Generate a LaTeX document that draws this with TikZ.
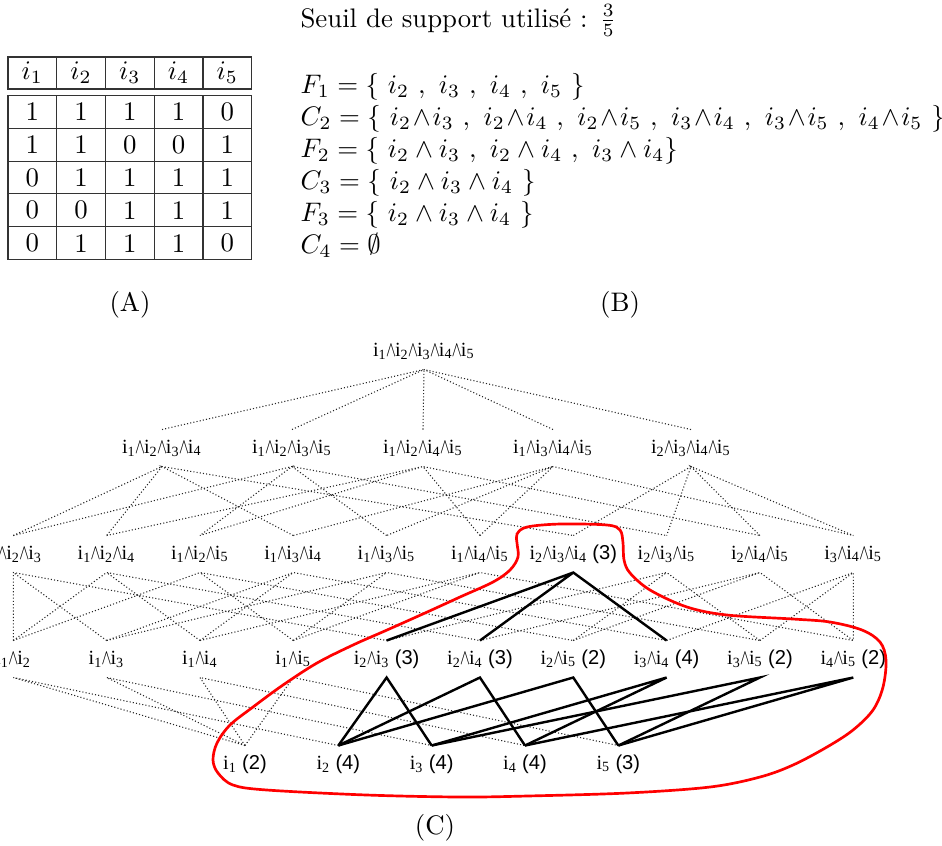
\documentclass[tikz,border=0pt]{standalone}
\usepackage{amsmath,amssymb}
\usepackage{fontspec}
\newfontfamily\timesf{Liberation Serif}
\newfontfamily\helvf{Liberation Sans}
\usetikzlibrary{positioning,calc}

\newcommand{\ai}[1]{i\textsubscript{#1}}
\newcommand{\wg}{\kern-0.45pt\scalebox{0.72}[1.15]{$\wedge$}\kern-0.45pt}
\newcommand{\cnt}[1]{\space{\helvf(#1)}}
\newcommand{\tw}{\mskip1.2mu{\wedge}\mskip1.2mu}

\tikzset{
  latnode/.style={font=\fontsize{7.5}{9}\selectfont\timesf, inner sep=0pt, minimum height=13.4pt},
  latedge/.style={dash pattern=on 0.4pt off 0.8pt, line width=0.4pt, black!85},
  freqedge/.style={line width=0.9pt},
  tabcell/.style={inner sep=0pt}
}

\begin{document}
\begin{tikzpicture}[x=0.373pt, y=-0.373pt]
    \useasboundingbox (0,0) rectangle (942,845);
    \clip (0,0) rectangle (942,845);

    % Table (A)
    \draw[black!80] (8,57) rectangle (251.75,89);
    \draw[black!80] (8,95.5) rectangle (251.75,259.5);
    \foreach \x in {56.75,105.5,154.25,203} {
        \draw[black!80] (\x,57) -- (\x,89);
        \draw[black!80] (\x,95.5) -- (\x,259.5);
    }
    \foreach \y in {128.3,161.1,193.9,226.7}
        \draw[black!80] (8,\y) -- (251.75,\y);
    \foreach \k in {1,...,5}
        \node[tabcell] (head\k) at ({48.75*\k-16.4},73) {$i_{\k}$};
    \foreach \row [count=\r] in {{1,1,1,1,0},{1,1,0,0,1},{0,1,1,1,1},{0,0,1,1,1},{0,1,1,1,0}}
        \foreach \val [count=\k] in \row
            \node[tabcell] (cell\r\k) at ({48.75*\k-16.4},{79.1+32.8*\r}) {\val};
    \node (labA) at (130,305) {(A)};

    % Sets (B)
    \node[anchor=base west, inner sep=0pt] (seuil) at (300,27) {Seuil de support utilisé : $\frac{3}{5}$};
    \node[anchor=base west, inner sep=0pt] (sets) at (300,93) {\begin{tabular}[t]{@{}l@{}}
        $F_1=\{\ i_2\ ,\ i_3\ ,\ i_4\ ,\ i_5\ \}$\\
        $C_2=\{\ i_2\tw i_3\ ,\ i_2\tw i_4\ ,\ i_2\tw i_5\ ,\ i_3\tw i_4\ ,\ i_3\tw i_5\ ,\ i_4\tw i_5\ \}$\\
        $F_2=\{\ i_2\wedge i_3\ ,\ i_2\wedge i_4\ ,\ i_3\wedge i_4\}$\\
        $C_3=\{\ i_2\wedge i_3\wedge i_4\ \}$\\
        $F_3=\{\ i_2\wedge i_3\wedge i_4\ \}$\\
        $C_4=\emptyset$
    \end{tabular}};
    \node (labB) at (620,305) {(B)};

    % Lattice (C)
    \node[latnode] (top) at (424,351) {\ai1\wg\ai2\wg\ai3\wg\ai4\wg\ai5};

    \foreach \n/\t/\x in {q1234/{\ai1\wg\ai2\wg\ai3\wg\ai4}/162, q1235/{\ai1\wg\ai2\wg\ai3\wg\ai5}/292,
                          q1245/{\ai1\wg\ai2\wg\ai4\wg\ai5}/423, q1345/{\ai1\wg\ai3\wg\ai4\wg\ai5}/553,
                          q2345/{\ai2\wg\ai3\wg\ai4\wg\ai5}/691}
        \node[latnode] (\n) at (\x,448) {\t};

    \foreach \n/\t [count=\k from 0] in {t123/{\ai1\wg\ai2\wg\ai3}, t124/{\ai1\wg\ai2\wg\ai4}, t125/{\ai1\wg\ai2\wg\ai5},
                                         t134/{\ai1\wg\ai3\wg\ai4}, t135/{\ai1\wg\ai3\wg\ai5}, t145/{\ai1\wg\ai4\wg\ai5},
                                         t234/{\ai2\wg\ai3\wg\ai4\cnt3}, t235/{\ai2\wg\ai3\wg\ai5},
                                         t245/{\ai2\wg\ai4\wg\ai5}, t345/{\ai3\wg\ai4\wg\ai5}}
        \node[latnode] (\n) at ({13.3+93.33*\k},554) {\t};

    \foreach \n/\t [count=\k from 0] in {p12/{\ai1\wg\ai2}, p13/{\ai1\wg\ai3}, p14/{\ai1\wg\ai4}, p15/{\ai1\wg\ai5},
                                         p23/{\ai2\wg\ai3\cnt3}, p24/{\ai2\wg\ai4\cnt3}, p25/{\ai2\wg\ai5\cnt2},
                                         p34/{\ai3\wg\ai4\cnt4}, p35/{\ai3\wg\ai5\cnt2}, p45/{\ai4\wg\ai5\cnt2}}
        \node[latnode] (\n) at ({13.3+93.33*\k},659) {\t};

    \foreach \n/\t [count=\k from 0] in {a1/{\ai1\cnt2}, a2/{\ai2\cnt4}, a3/{\ai3\cnt4}, a4/{\ai4\cnt4}, a5/{\ai5\cnt3}}
        \node[latnode] (\n) at ({245+93.33*\k},764) {\t};

    % edges
    \foreach \n in {q1234,q1235,q1245,q1345,q2345}
        \draw[latedge] (\n.north) -- (top.south);
    \foreach \ia/\ib/\ic/\id in {1/2/3/4,1/2/3/5,1/2/4/5,1/3/4/5,2/3/4/5}
        \draw[latedge] (t\ia\ib\ic.north) -- (q\ia\ib\ic\id.south) -- (t\ia\ib\id.north)
                       (t\ia\ic\id.north) -- (q\ia\ib\ic\id.south) -- (t\ib\ic\id.north);
    \foreach \ia/\ib/\ic/\s in {1/2/3/latedge,1/2/4/latedge,1/2/5/latedge,1/3/4/latedge,1/3/5/latedge,
                                1/4/5/latedge,2/3/5/latedge,2/4/5/latedge,3/4/5/latedge,2/3/4/freqedge}
        \draw[\s] (p\ia\ib.north) -- (t\ia\ib\ic.south) -- (p\ib\ic.north)
                  (p\ia\ic.north) -- (t\ia\ib\ic.south);
    \foreach \ia/\ib/\s in {1/2/latedge,1/3/latedge,1/4/latedge,1/5/latedge,2/3/freqedge,
                            2/4/freqedge,2/5/freqedge,3/4/freqedge,3/5/freqedge,4/5/freqedge}
        \draw[\s] (a\ia.north) -- (p\ia\ib.south) -- (a\ib.north);

    % frequent itemsets
    \draw[red, line width=1pt] plot[smooth cycle, tension=0.55] coordinates {
        (517,534) (527,527) (560,524) (607,525) (620,530) (623,543) (624,560) (630,573)
        (650,590) (687,607) (727,615) (793,619) (830,622) (862,630) (880,642) (886,660)
        (883,687) (873,710) (853,730) (827,747) (793,765) (760,777) (710,787) (627,793)
        (527,796) (460,797) (367,795) (267,790) (233,785) (218,773) (213,760) (217,743)
        (230,725) (253,707) (283,685) (317,663) (353,645) (387,630) (425,613) (460,597)
        (493,582) (510,570) (518,557) (517,543)};

    \node (labC) at (435,828) {(C)};
\end{tikzpicture}
\end{document}
